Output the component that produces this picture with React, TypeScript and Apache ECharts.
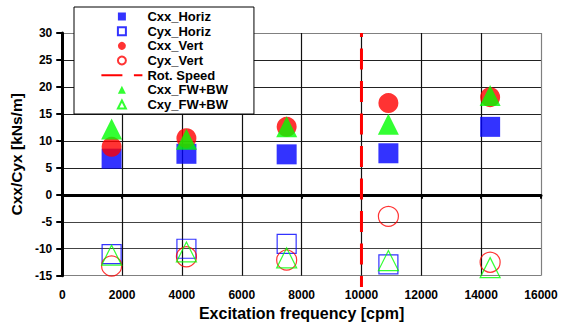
import React, { useEffect, useRef } from "react";
import * as echarts from "echarts";

const freqs = [1650, 4150, 7500, 10900, 14300];
const cxxHoriz = [6.7, 7.6, 7.5, 7.7, 12.6];
const cyxHoriz = [-11.0, -10.0, -9.1, -12.9, null];
const cxxVert = [8.9, 10.5, 12.6, 17.0, 18.1];
const cyxVert = [-13.2, -11.5, -12.1, -4.0, -12.5];
const cxxFW = [12.2, 10.3, 12.6, 13.1, 18.4];
const cxyFW = [-11.2, -10.6, -11.7, -12.2, -13.5];
const rotSpeed = 10000;
const rotSpeedSpan = [30, -17.1];
const seriesNames = ["Cxx_Horiz", "Cyx_Horiz", "Cxx_Vert", "Cyx_Vert", "Rot. Speed", "Cxx_FW+BW", "Cxy_FW+BW"];

const FONT = "'Liberation Sans', Arial, Helvetica, sans-serif";
const BLUE = "#0000ff";
const RED = "#ff0000";
const GREEN = "#00ff00";

const SQUARE_ICON = "path://M0,0L8,0L8,8L0,8Z";
const TRIANGLE_ICON = "path://M4.5,0L9,9L0,9Z";

const pts = (ys: (number | null)[]) => freqs.map((x, i) => [x, ys[i]]);

export default function App() {
  const ref = useRef<HTMLDivElement>(null);
  useEffect(() => {
    if (!ref.current) return;
    const chart = echarts.init(ref.current, undefined, { renderer: "svg" });
    const hollow = (c: string) => ({ color: "rgba(0,0,0,0)", borderColor: c, borderWidth: 1.2 });
    const ySplitColors = ["#808080", "#444", "#444", "#444", "#222", "#222", "#222", "#222", "#222", "#808080"];
    const xSplitColors = ["#000", "#111", "#111", "#111", "#111", "#111", "#111", "#111", "#808080"];
    const legendIcons: Record<string, any> = {
      "Cxx_Horiz": { icon: SQUARE_ICON },
      "Cyx_Horiz": { icon: SQUARE_ICON },
      "Cxx_Vert": { icon: "circle" },
      "Cyx_Vert": { icon: "circle" },
      "Rot. Speed": { itemStyle: { color: "rgba(0,0,0,0)", borderWidth: 0, opacity: 0 } },
      "Cxx_FW+BW": { icon: TRIANGLE_ICON },
      "Cxy_FW+BW": { icon: TRIANGLE_ICON },
    };
    chart.setOption({
      animation: false,
      grid: { left: 57, right: 31, top: 33, bottom: 51.3, show: false },
      legend: {
        orient: "vertical",
        left: 74,
        top: 7,
        padding: [2.5, 26, 2.5, 26.4],
        itemWidth: 41,
        itemHeight: 8,
        itemGap: 0.67,
        symbolKeepAspect: true,
        backgroundColor: "#fff",
        borderColor: "#000",
        borderWidth: 1,
        borderRadius: 0,
        selectedMode: false,
        data: seriesNames.map((n) => ({ name: n, ...legendIcons[n] })),
        textStyle: { fontFamily: FONT, fontWeight: "bold", fontSize: 13, color: "#000", lineHeight: 14 },
        lineStyle: { dashOffset: 0 },
        z: 10,
      },
      xAxis: [
        {
          type: "value",
          position: "bottom",
          min: 0,
          max: 16000,
          interval: 2000,
          axisLine: { show: false, onZero: false },
          axisTick: { show: false },
          axisLabel: {
            fontFamily: FONT, fontWeight: "bold", fontSize: 12, color: "#000", margin: 13,
            formatter: (v: number) => String(v),
          },
          splitLine: { show: true, lineStyle: { color: xSplitColors, width: 1.2 } },
          name: "Excitation frequency [cpm]",
          nameLocation: "middle",
          nameGap: 30,
          nameTextStyle: { fontFamily: FONT, fontWeight: "bold", fontSize: 16, color: "#000" },
        },
        {
          type: "value",
          position: "bottom",
          min: 0,
          max: 16000,
          interval: 2000,
          axisLine: { show: true, onZero: true, lineStyle: { color: "#000", width: 3 } },
          axisTick: { show: true, length: 4, lineStyle: { color: "#000", width: 2 } },
          axisLabel: { show: false },
          splitLine: { show: false },
        },
      ],
      yAxis: {
        type: "value",
        min: -15,
        max: 30,
        interval: 5,
        axisLine: { show: true, onZero: false, lineStyle: { color: "#000", width: 3 } },
        axisTick: { show: true, length: 6, lineStyle: { color: "#000", width: 2 } },
        axisLabel: { fontFamily: FONT, fontWeight: "bold", fontSize: 12, color: "#000", margin: 10 },
        splitLine: { show: true, lineStyle: { color: ySplitColors, width: 1.2 } },
        name: "Cxx/Cyx [kNs/m]",
        nameLocation: "middle",
        nameGap: 25,
        nameTextStyle: { fontFamily: FONT, fontWeight: "bold", fontSize: 15.5, color: "#000" },
      },
      series: [
        { name: "Cxx_Horiz", type: "scatter", symbol: "rect", symbolSize: 20, data: pts(cxxHoriz), itemStyle: { color: BLUE } },
        { name: "Cyx_Horiz", type: "scatter", symbol: "rect", symbolSize: 19, data: pts(cyxHoriz), itemStyle: hollow(BLUE) },
        { name: "Cxx_Vert", type: "scatter", symbol: "circle", symbolSize: 20, data: pts(cxxVert), itemStyle: { color: RED } },
        { name: "Cyx_Vert", type: "scatter", symbol: "circle", symbolSize: 20, data: pts(cyxVert), itemStyle: hollow(RED) },
        {
          name: "Rot. Speed",
          type: "line",
          symbol: "none",
          clip: false,
          data: rotSpeedSpan.map((y) => [rotSpeed, y]),
          itemStyle: { color: RED },
          lineStyle: { color: RED, width: 3, type: [21, 11.5], dashOffset: 17.2 },
        },
        { name: "Cxx_FW+BW", type: "scatter", symbol: "triangle", symbolSize: 21, data: pts(cxxFW), itemStyle: { color: GREEN } },
        { name: "Cxy_FW+BW", type: "scatter", symbol: "triangle", symbolSize: 20, data: pts(cxyFW), itemStyle: hollow(GREEN) },
      ],
    });
    return () => chart.dispose();
  }, []);
  return <div ref={ref} style={{ width: 572, height: 327, position: "absolute", left: 0, top: 0 }} />;
}
